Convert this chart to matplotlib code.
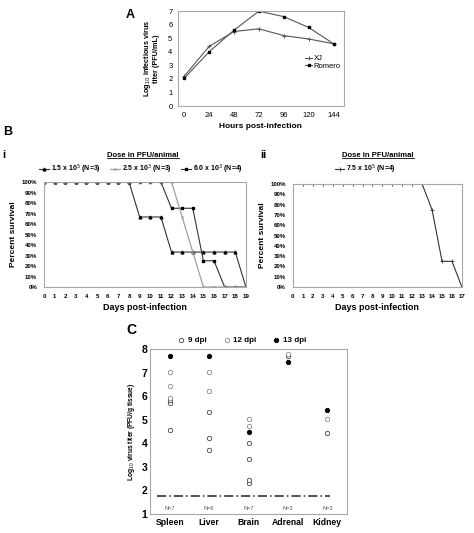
import matplotlib.pyplot as plt
from matplotlib.lines import Line2D

plt.rcParams['font.family'] = ['Liberation Sans', 'DejaVu Sans']

# ==========================================
# --- DATA ---
# ==========================================
# Panel A: growth curves
hours = [0, 24, 48, 72, 96, 120, 144]
titer_xj = [2.2, 4.4, 5.5, 5.7, 5.2, 4.95, 4.6]
titer_romero = [2.05, 4.0, 5.6, 7.0, 6.6, 5.8, 4.6]

# Panel B i: survival, days 0..19
days_i = [0, 1, 2, 3, 4, 5, 6, 7, 8, 9, 10, 11, 12, 13, 14, 15, 16, 17, 18, 19]
surv_15e5 = [100, 100, 100, 100, 100, 100, 100, 100, 100, 66.7, 66.7, 66.7,
             33.3, 33.3, 33.3, 33.3, 33.3, 33.3, 33.3, 0]
surv_25e3 = [100, 100, 100, 100, 100, 100, 100, 100, 100, 100, 100, 100,
             100, 66.7, 33.3, 0, 0, 0, 0, 0]
surv_60e3 = [100, 100, 100, 100, 100, 100, 100, 100, 100, 100, 100, 100,
             75, 75, 75, 25, 25, 0, 0, 0]

# Panel B ii: survival, days 0..17
days_ii = [0, 1, 2, 3, 4, 5, 6, 7, 8, 9, 10, 11, 12, 13, 14, 15, 16, 17]
surv_75e5 = [100, 100, 100, 100, 100, 100, 100, 100, 100, 100, 100, 100,
             100, 100, 75, 25, 25, 0]

# Panel C: tissue titers (organ index, log10 titer)
organs = ['Spleen', 'Liver', 'Brain', 'Adrenal', 'Kidney']
organ_n = [7, 6, 7, 3, 3]
dpi9_org = [0, 0, 0, 1, 1, 1, 2, 2, 2, 2, 3, 4]
dpi9_val = [4.57, 5.73, 5.82, 3.72, 4.22, 5.32, 2.33, 2.43, 3.32, 4.03, 7.72, 4.43]
dpi12_org = [0, 0, 0, 1, 1, 2, 2, 3, 4]
dpi12_val = [5.93, 6.42, 7.03, 6.22, 7.03, 4.73, 5.03, 7.8, 5.02]
dpi13_org = [0, 1, 2, 3, 4]
dpi13_val = [7.72, 7.72, 4.5, 7.45, 5.42]
detection_limit = 1.75

spine_col = '#a8a8a8'
line_col = '#333333'

fig = plt.figure(figsize=(4.74, 5.33), dpi=100)


def style_box(ax):
    for s in ax.spines.values():
        s.set_color(spine_col)
        s.set_linewidth(0.8)


def underline(t, lw=0.6):
    # draw a thin line under a text object (figure coords)
    fig.canvas.draw()
    bb = t.get_window_extent().transformed(fig.transFigure.inverted())
    fig.add_artist(Line2D([bb.x0, bb.x1], [bb.y0 + 0.001, bb.y0 + 0.001],
                          transform=fig.transFigure, color='black', lw=lw))


# ==========================================
# --- PANEL A ---
# ==========================================
axA = fig.add_axes([0.3755, 0.801, 0.350, 0.178])
axA.plot(hours, titer_xj, color='#555555', lw=0.8, marker='+', ms=3, mew=0.7, label='XJ')
axA.plot(hours, titer_romero, color='#555555', lw=0.8, marker='s', ms=1.6, mfc='black',
         mec='black', label='Romero')
axA.set_xlim(-6, 154)
axA.set_ylim(0, 7)
axA.set_xticks(hours)
axA.set_yticks(range(8))
axA.tick_params(length=0, labelsize=5.5, pad=4)
axA.set_xlabel('Hours post-infection', fontsize=6, fontweight='bold', labelpad=3)
axA.set_ylabel('Log$_{10}$ infectious virus\ntiter (PFU/mL)', fontsize=5.2,
               fontweight='bold', labelpad=6, linespacing=1.0)
style_box(axA)
axA.legend(loc='center left', bbox_to_anchor=(0.75, 0.46), fontsize=5.5, frameon=False,
           handlelength=0.9, handletextpad=0.2, labelspacing=0.0, borderaxespad=0)
fig.text(0.274, 0.972, 'A', fontsize=9, fontweight='bold', ha='center', va='center')

# ==========================================
# --- PANEL B i ---
# ==========================================
axBi = fig.add_axes([0.0928, 0.4615, 0.426, 0.197])
axBi.plot(days_i, surv_15e5, color=line_col, lw=0.8, marker='^', ms=2, mfc='black',
          mec='black', label='1.5 x 10$^5$ (N=3)', zorder=2)
axBi.plot(days_i, surv_60e3, color=line_col, lw=0.8, marker='s', ms=1.6, mfc='black',
          mec='black', label='6.0 x 10$^3$ (N=4)', zorder=2)
axBi.plot(days_i, surv_25e3, color='#a0a0a0', lw=0.9, marker='x', ms=2, mew=0.5,
          label='2.5 x 10$^3$ (N=3)', zorder=3)
axBi.set_xlim(0, 19)
axBi.set_ylim(0, 100)
axBi.set_xticks(days_i)
axBi.set_yticks(range(0, 101, 10))
axBi.set_yticklabels([f'{v}%' for v in range(0, 101, 10)])
axBi.tick_params(length=0, labelsize=4.4, pad=5)
for lab in axBi.get_xticklabels() + axBi.get_yticklabels():
    lab.set_fontweight('bold')
axBi.set_xlabel('Days post-infection', fontsize=6.5, fontweight='bold', labelpad=3)
axBi.set_ylabel('Percent survival', fontsize=6, fontweight='bold', labelpad=3)
style_box(axBi)
h, l = axBi.get_legend_handles_labels()
order = [0, 2, 1]
axBi.legend([h[i] for i in order], [l[i] for i in order], loc='center',
            bbox_to_anchor=(0.48, 1.125), ncol=3, frameon=False,
            handlelength=1.4, handletextpad=0.3, columnspacing=1.3, borderaxespad=0,
            prop={'weight': 'bold', 'size': 5})
fig.text(0.017, 0.752, 'B', fontsize=9, fontweight='bold', ha='center', va='center')
fig.text(0.008, 0.709, 'i', fontsize=8, fontweight='bold', ha='center', va='center')
tBi = fig.text(0.302, 0.709, 'Dose in PFU/animal', fontsize=5.5, fontweight='bold',
               ha='center', va='center')

# ==========================================
# --- PANEL B ii ---
# ==========================================
axBii = fig.add_axes([0.618, 0.4615, 0.3565, 0.193])
axBii.plot(days_ii, surv_75e5, color=line_col, lw=0.8, marker='+', ms=2.5, mew=0.6,
           label='7.5 x 10$^5$ (N=4)')
axBii.set_xlim(0, 17)
axBii.set_ylim(0, 100)
axBii.set_xticks(days_ii)
axBii.set_yticks(range(0, 101, 10))
axBii.set_yticklabels([f'{v}%' for v in range(0, 101, 10)])
axBii.tick_params(length=0, labelsize=4.4, pad=5)
for lab in axBii.get_xticklabels() + axBii.get_yticklabels():
    lab.set_fontweight('bold')
axBii.set_xlabel('Days post-infection', fontsize=6.5, fontweight='bold', labelpad=3)
axBii.set_ylabel('Percent survival', fontsize=6, fontweight='bold', labelpad=3)
style_box(axBii)
axBii.legend(loc='center', bbox_to_anchor=(0.43, 1.145), frameon=False,
             handlelength=1.4, handletextpad=0.3, borderaxespad=0,
             prop={'weight': 'bold', 'size': 5})
fig.text(0.555, 0.709, 'ii', fontsize=8, fontweight='bold', ha='center', va='center')
tBii = fig.text(0.797, 0.709, 'Dose in PFU/animal', fontsize=5.5, fontweight='bold',
                ha='center', va='center')

# ==========================================
# --- PANEL C ---
# ==========================================
axC = fig.add_axes([0.3165, 0.0356, 0.4156, 0.3096])
axC.scatter(dpi9_org, dpi9_val, s=10, facecolors='white', edgecolors='#444444',
            linewidths=0.6, label='9 dpi', zorder=3)
axC.scatter(dpi12_org, dpi12_val, s=10, facecolors='white', edgecolors='#8a8a8a',
            linewidths=0.6, label='12 dpi', zorder=3)
axC.scatter(dpi13_org, dpi13_val, s=10, facecolors='black', edgecolors='black',
            linewidths=0.6, label='13 dpi', zorder=3)
axC.axhline(detection_limit, xmin=0.035, xmax=0.915, color='#222222', lw=1.1,
            dashes=(6, 2, 1, 2))
for i, n in enumerate(organ_n):
    axC.text(i, 1.22, f'N={n}', fontsize=4, color='#555555', ha='center', va='center')
axC.set_xlim(-0.5, 4.5)
axC.set_ylim(1, 8)
axC.set_xticks(range(len(organs)))
axC.set_xticklabels(organs)
axC.set_yticks(range(1, 9))
axC.tick_params(axis='x', length=0, labelsize=6.2, pad=3)
axC.tick_params(axis='y', length=0, labelsize=7.5, pad=2)
for lab in axC.get_xticklabels() + axC.get_yticklabels():
    lab.set_fontweight('bold')
axC.set_ylabel('Log$_{10}$ virus titer (PFU/g tissue)', fontsize=4.8, fontweight='bold',
               labelpad=3)
style_box(axC)
axC.legend(loc='center', bbox_to_anchor=(0.47, 1.055), ncol=3, frameon=False,
           handlelength=0.6, handletextpad=0.5, columnspacing=2.2, borderaxespad=0,
           prop={'weight': 'bold', 'size': 5.8})
fig.text(0.278, 0.381, 'C', fontsize=10, fontweight='bold', ha='center', va='center')

underline(tBi)
underline(tBii)

fig.savefig('out.png', dpi=100)
